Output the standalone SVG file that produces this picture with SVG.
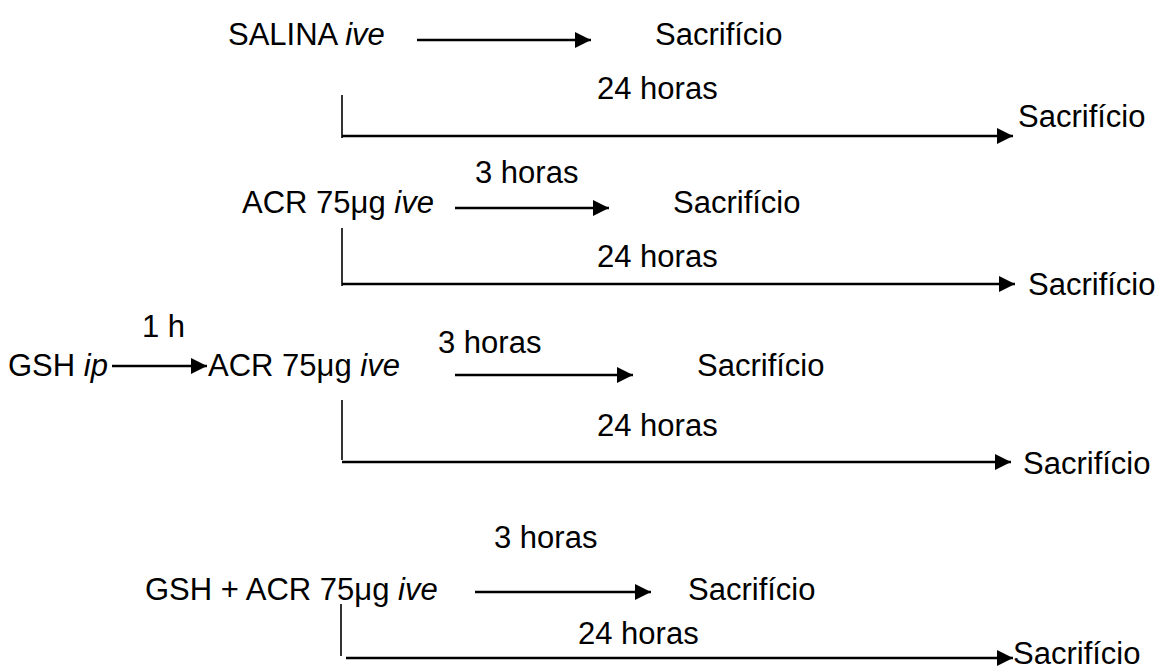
<svg xmlns="http://www.w3.org/2000/svg" width="1160" height="668" viewBox="0 0 1160 668">
<style>
text{font-family:"Liberation Sans",Arial,sans-serif;font-size:31px;fill:#000}
.it{font-style:italic}
.ar{stroke:#000;stroke-width:2.5;fill:none;marker-end:url(#ah)}
.vl{stroke:#000;stroke-width:1.6;fill:none}
</style>
<defs>
<marker id="ah" markerUnits="userSpaceOnUse" markerWidth="17" markerHeight="16" refX="16" refY="8" orient="auto">
<path d="M0,0 L16,8 L0,16 z" fill="#000"/>
</marker>
</defs>
<rect width="1160" height="668" fill="#fff"/>
<g id="connectors">
<line class="ar" x1="417" y1="40" x2="591" y2="40"/>
<line class="vl" x1="342" y1="95" x2="342" y2="138"/>
<line class="ar" x1="342" y1="136" x2="1013" y2="136"/>
<line class="ar" x1="455" y1="208" x2="609" y2="208"/>
<line class="vl" x1="342" y1="228" x2="342" y2="286"/>
<line class="ar" x1="342" y1="284" x2="1015" y2="284"/>
<line class="ar" x1="112" y1="366" x2="207" y2="366"/>
<line class="ar" x1="455" y1="375" x2="633" y2="375"/>
<line class="vl" x1="342" y1="400" x2="342" y2="460"/>
<line class="ar" x1="342" y1="462" x2="1011" y2="462"/>
<line class="ar" x1="475" y1="592" x2="651" y2="592"/>
<line class="vl" x1="341" y1="604" x2="341" y2="656"/>
<line class="ar" x1="346" y1="658" x2="1013" y2="658"/>
</g>
<g id="salina"><text x="228" y="45">SALINA <tspan class="it">ive</tspan></text></g>
<g id="sac1"><text x="655" y="45">Sacrifício</text></g>
<g id="h24a"><text x="597" y="99">24 horas</text></g>
<g id="sac2"><text x="1018" y="127">Sacrifício</text></g>
<g id="h3a"><text x="475" y="183">3 horas</text></g>
<g id="acr1"><text x="242" y="213">ACR 75μg <tspan class="it">ive</tspan></text></g>
<g id="sac3"><text x="673" y="213">Sacrifício</text></g>
<g id="h24b"><text x="597" y="267">24 horas</text></g>
<g id="sac4"><text x="1028" y="295">Sacrifício</text></g>
<g id="h1"><text x="142" y="337">1 h</text></g>
<g id="gsh"><text x="8" y="376">GSH <tspan class="it">ip</tspan></text></g>
<g id="acr2"><text x="208" y="376">ACR 75μg <tspan class="it">ive</tspan></text></g>
<g id="h3b"><text x="438" y="353">3 horas</text></g>
<g id="sac5"><text x="697" y="376">Sacrifício</text></g>
<g id="h24c"><text x="597" y="436">24 horas</text></g>
<g id="sac6"><text x="1023" y="474">Sacrifício</text></g>
<g id="h3c"><text x="494" y="548">3 horas</text></g>
<g id="gshacr"><text x="145" y="600">GSH + ACR 75μg <tspan class="it">ive</tspan></text></g>
<g id="sac7"><text x="688" y="600">Sacrifício</text></g>
<g id="h24d"><text x="578" y="644">24 horas</text></g>
<g id="sac8"><text x="1013" y="664">Sacrifício</text></g>
</svg>
